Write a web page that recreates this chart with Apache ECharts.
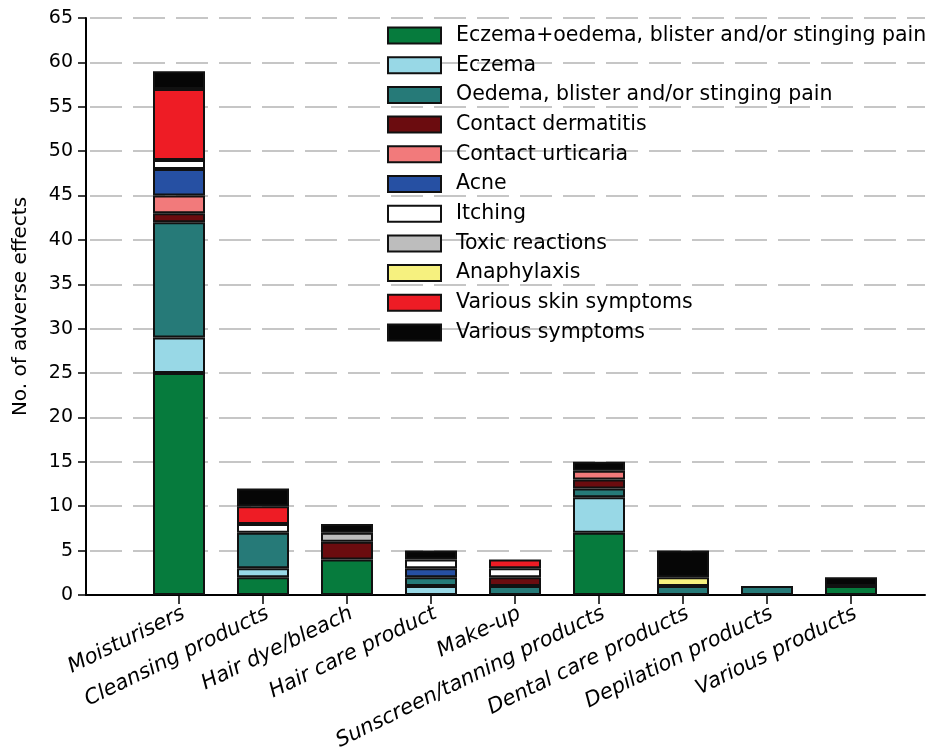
<!DOCTYPE html>
<html>
<head>
<meta charset="utf-8">
<script src="https://cdn.jsdelivr.net/npm/echarts@6/dist/echarts.min.js"></script>
<style>
html,body{margin:0;padding:0;background:#fff;}
#chart{width:933px;height:747px;}
</style>
</head>
<body>
<div id="chart"></div>
<script>
// ---- data ----
var categories = ['Moisturisers', 'Cleansing products', 'Hair dye/bleach', 'Hair care product', 'Make-up',
  'Sunscreen/tanning products', 'Dental care products', 'Depilation products', 'Various products'];
var seriesNames = ['Eczema+oedema, blister and/or stinging pain', 'Eczema', 'Oedema, blister and/or stinging pain',
  'Contact dermatitis', 'Contact urticaria', 'Acne', 'Itching', 'Toxic reactions', 'Anaphylaxis',
  'Various skin symptoms', 'Various symptoms'];
var eczemaOedema      = [25, 2, 4, 0, 0, 7, 0, 0, 1];
var eczema            = [4, 1, 0, 1, 0, 4, 0, 0, 0];
var oedema            = [13, 4, 0, 1, 1, 1, 1, 1, 0];
var contactDermatitis = [1, 0, 2, 0, 1, 1, 0, 0, 0];
var contactUrticaria  = [2, 0, 0, 0, 0, 1, 0, 0, 0];
var acne              = [3, 0, 0, 1, 0, 0, 0, 0, 0];
var itching           = [1, 1, 0, 1, 1, 0, 0, 0, 0];
var toxicReactions    = [0, 0, 1, 0, 0, 0, 0, 0, 0];
var anaphylaxis       = [0, 0, 0, 0, 0, 0, 1, 0, 0];
var variousSkin       = [8, 2, 0, 0, 1, 0, 0, 0, 0];
var variousSymptoms   = [2, 2, 1, 1, 0, 1, 3, 0, 1];
var yTicks = {min: 0, max: 65, interval: 5};

// ---- styles ----
var seriesValues = [eczemaOedema, eczema, oedema, contactDermatitis, contactUrticaria, acne, itching,
  toxicReactions, anaphylaxis, variousSkin, variousSymptoms];
var colors = ['#067b3d', '#98d8e6', '#267a78', '#6b0c0f', '#f27a7b', '#2650a3', '#ffffff', '#bdbdbd',
  '#f6f17f', '#ee1c25', '#060606'];
var FONT = "'DejaVu Sans', sans-serif";

var series = seriesNames.map(function (name, i) {
  return {
    name: name,
    type: 'bar',
    stack: 'total',
    xAxisIndex: 1,
    yAxisIndex: 1,
    barWidth: 52,
    data: seriesValues[i].map(function (v) { return v === 0 ? null : v; }),
    itemStyle: { color: colors[i], borderColor: '#111', borderWidth: 2 },
    emphasis: { disabled: true }
  };
});

var chart = echarts.init(document.getElementById('chart'), null, { renderer: 'canvas' });
chart.setOption({
  animation: false,
  backgroundColor: '#fff',
  textStyle: { fontFamily: FONT },
  grid: [
    { left: 86, right: 8, top: 18, bottom: 152, containLabel: false, outerBoundsMode: 'none' },
    { left: 137, right: 40, top: 18, bottom: 152, containLabel: false, outerBoundsMode: 'none' }
  ],
  legend: {
    orient: 'vertical',
    left: 387,
    top: 25,
    padding: 0,
    itemWidth: 53,
    itemHeight: 16,
    itemGap: 8.7,
    icon: 'rect',
    selectedMode: false,
    data: seriesNames,
    textStyle: { fontSize: 20.5, fontFamily: FONT, color: '#000', padding: [0, 0, 0, 10] }
  },
  xAxis: [
    {
      gridIndex: 0, type: 'value', min: 0, max: 1,
      axisLine: { show: true, onZero: false, lineStyle: { color: '#000', width: 2 } },
      axisTick: { show: false }, axisLabel: { show: false }, splitLine: { show: false }
    },
    {
      gridIndex: 1, type: 'category', data: categories, boundaryGap: true,
      axisLine: { show: false },
      axisTick: { show: true, alignWithLabel: true, length: 9, lineStyle: { color: '#000', width: 1.5 } },
      axisLabel: {
        interval: 0, rotate: 26, margin: 8, fontSize: 21, fontStyle: 'italic',
        verticalAlign: 'top', fontFamily: FONT, color: '#000'
      }
    }
  ],
  yAxis: [
    {
      gridIndex: 0, type: 'value', min: yTicks.min, max: yTicks.max, interval: yTicks.interval,
      name: 'No. of adverse effects', nameLocation: 'middle', nameGap: 55,
      nameTextStyle: { fontSize: 20, fontFamily: FONT, color: '#000' },
      axisLine: { show: true, onZero: false, lineStyle: { color: '#000', width: 2 } },
      axisTick: { show: true, length: 8, lineStyle: { color: '#000', width: 1.5 } },
      axisLabel: { fontSize: 19, fontFamily: FONT, color: '#000', margin: 13 },
      splitLine: { show: true, lineStyle: { color: '#c6c6c6', width: 2, type: [32, 11], dashOffset: -4 } }
    },
    {
      gridIndex: 1, type: 'value', min: yTicks.min, max: yTicks.max, interval: yTicks.interval,
      show: false, splitLine: { show: false }
    }
  ],
  series: series
});
</script>
</body>
</html>
